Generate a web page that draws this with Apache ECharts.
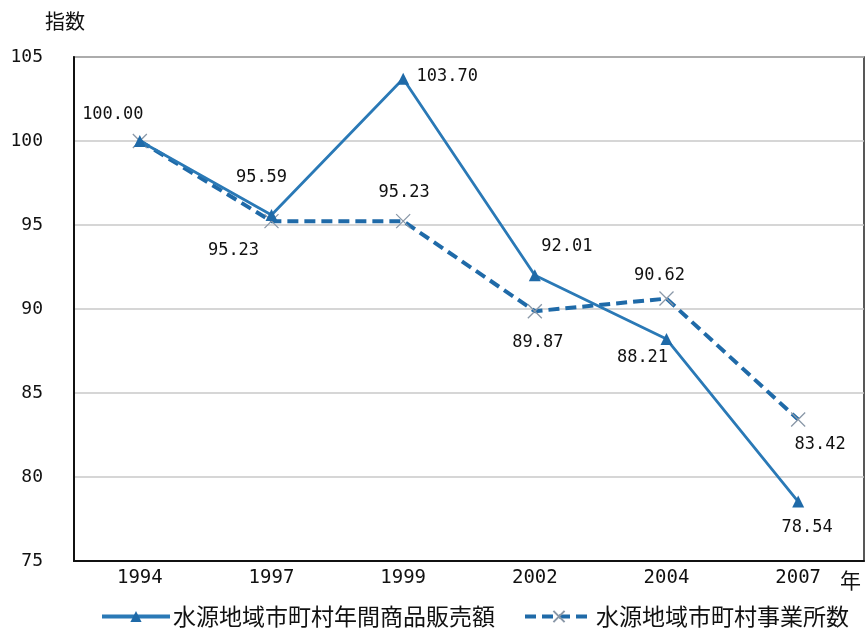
<!DOCTYPE html>
<html>
<head>
<meta charset="utf-8">
<script src="https://cdn.jsdelivr.net/npm/echarts@6/dist/echarts.min.js"></script>
<style>html,body{margin:0;padding:0;background:#fff;}#c{width:866px;height:635px;}</style>
</head>
<body>
<div id="c"></div>
<script>
const categories = ['1994', '1997', '1999', '2002', '2004', '2007'];
const salesValues = [100.00, 95.59, 103.70, 92.01, 88.21, 78.54];
const officeValues = [100.00, 95.23, 95.23, 89.87, 90.62, 83.42];
const yTicks = [75, 80, 85, 90, 95, 100, 105];
const seriesNames = ['水源地域市町村年間商品販売額', '水源地域市町村事業所数'];

// label layout (offsets from each point), kept separate from values
const salesLabelOffsets = [[-27, -26], [-10, -38], [44, -2], [32, -29], [-24, 19], [9, 26]];
const officeLabelOffsets = [null, [-38, 29], [1, -29], [3, 31], [-7, -23], [22, 25]];

const numFont = "'DejaVu Sans Mono', 'Liberation Mono', monospace";
const cjkFont = "'Noto Sans CJK JP', sans-serif";

function mkData(vals, offs) {
  return vals.map((v, i) => {
    const o = offs[i];
    return {
      value: v,
      label: o ? { show: true, position: 'inside', offset: o, formatter: v.toFixed(2) } : { show: false }
    };
  });
}

const chart = echarts.init(document.getElementById('c'));
chart.setOption({
  animation: false,
  backgroundColor: '#fff',
  grid: { left: 74, right: 2, top: 57, bottom: 74, show: true, borderColor: '#222', borderWidth: 1.5, backgroundColor: 'transparent' },
  graphic: [
    { type: 'text', left: 45, top: 11, style: { text: '指数', font: "20px " + cjkFont, fill: '#111' } },
    { type: 'text', left: 840, top: 570, style: { text: '年', font: "21px " + cjkFont, fill: '#111' } }
  ],
  legend: {
    left: 95, top: 600,
    itemWidth: 68, itemHeight: 14, itemGap: 28,
    lineStyle: { width: 4 },
    textStyle: { fontFamily: cjkFont, fontSize: 23, color: '#111', padding: [0, 0, 0, -2] },
    data: seriesNames
  },
  xAxis: {
    type: 'category',
    data: categories,
    boundaryGap: true,
    axisLine: { lineStyle: { color: '#111', width: 2 } },
    axisTick: { inside: true, length: 6, lineStyle: { color: '#111', width: 1.5 } },
    axisLabel: { margin: 8, fontFamily: numFont, fontSize: 19, color: '#111' }
  },
  yAxis: {
    type: 'value',
    min: yTicks[0], max: yTicks[yTicks.length - 1], interval: 5,
    axisLine: { show: true, lineStyle: { color: '#111', width: 2 } },
    axisTick: { show: false },
    splitLine: { lineStyle: { color: '#c8c8c8', width: 1.5 } },
    axisLabel: { margin: 31, fontFamily: numFont, fontSize: 18, color: '#111' }
  },
  series: [
    {
      name: seriesNames[0],
      type: 'line',
      data: mkData(salesValues, salesLabelOffsets),
      symbol: 'triangle',
      symbolSize: 12,
      z: 3,
      lineStyle: { color: '#2a79b6', width: 2.8 },
      itemStyle: { color: '#1f6aa8' },
      label: { fontFamily: numFont, fontSize: 17, color: '#111' }
    },
    {
      name: seriesNames[1],
      type: 'line',
      data: mkData(officeValues, officeLabelOffsets),
      symbol: 'path://M0,0L10,10M10,0L0,10',
      symbolSize: 14,
      z: 2,
      lineStyle: { color: '#1f6aa8', width: 4, type: [11, 6] },
      itemStyle: { color: 'none', borderColor: '#8a98a8', borderWidth: 1.3 },
      label: { fontFamily: numFont, fontSize: 17, color: '#111' }
    }
  ]
});
</script>
</body>
</html>
